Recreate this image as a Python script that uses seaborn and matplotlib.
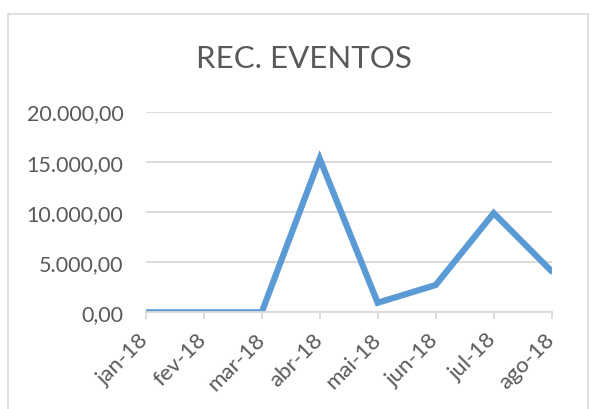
import matplotlib
matplotlib.use("Agg")
import matplotlib.pyplot as plt
import matplotlib.ticker as mticker
from matplotlib.patches import Rectangle
import pandas as pd
import seaborn as sb

months = ["jan-18", "fev-18", "mar-18", "abr-18", "mai-18", "jun-18", "jul-18", "ago-18"]
values = [0, 0, 0, 15300, 950, 2720, 9880, 4080]
yticks = [0, 5000, 10000, 15000, 20000]

LINE = "#5B9BD5"
TEXT = "#595959"
GRID = "#D9D9D9"

sb.set_theme(style="white")
plt.rcParams["font.family"] = ["Lato", "DejaVu Sans"]

dset = pd.DataFrame({"month": months, "value": values})

fig = plt.figure(figsize=(5.93, 4.10), dpi=100)
ax = fig.add_axes([145.7 / 593, 1 - 313.3 / 410, (551.7 - 145.7) / 593, (313.3 - 112.5) / 410])

# light chart frame like the spreadsheet export
fig.patches.append(Rectangle((8 / 593, -0.1), 580 / 593, 1.1 - 15 / 410,
                             transform=fig.transFigure, fill=False,
                             edgecolor=GRID, linewidth=1.2))

sb.lineplot(data=dset, x="month", y="value", sort=False, ax=ax,
            color=LINE, linewidth=4.5, solid_capstyle="round", solid_joinstyle="miter")

ax.set_xlim(0, len(months) - 1)
ax.set_ylim(0, 20000)
ax.set_yticks(yticks)
ax.yaxis.set_major_formatter(mticker.FuncFormatter(
    lambda v, _: f"{v:,.2f}".replace(",", "X").replace(".", ",").replace("X", ".")))
ax.grid(True, axis="y", color=GRID, linewidth=1.3)
ax.set_axisbelow(True)

for side in ["top", "right", "left"]:
    ax.spines[side].set_visible(False)
ax.spines["bottom"].set_color(GRID)
ax.spines["bottom"].set_linewidth(1.3)

ax.tick_params(axis="y", length=0, labelsize=15.5, labelcolor=TEXT, pad=16)
ax.tick_params(axis="x", length=5, width=1.3, color=GRID, labelsize=16,
               labelcolor=TEXT, pad=12, bottom=True)
plt.setp(ax.get_xticklabels(), rotation=45, ha="right", va="center",
         rotation_mode="anchor")

ax.set_xlabel("")
ax.set_ylabel("")
fig.text(304 / 593, 1 - 59 / 410, "REC. EVENTOS", ha="center", va="center",
         fontsize=22.5, color=TEXT)

fig.savefig("out.png", dpi=100)
